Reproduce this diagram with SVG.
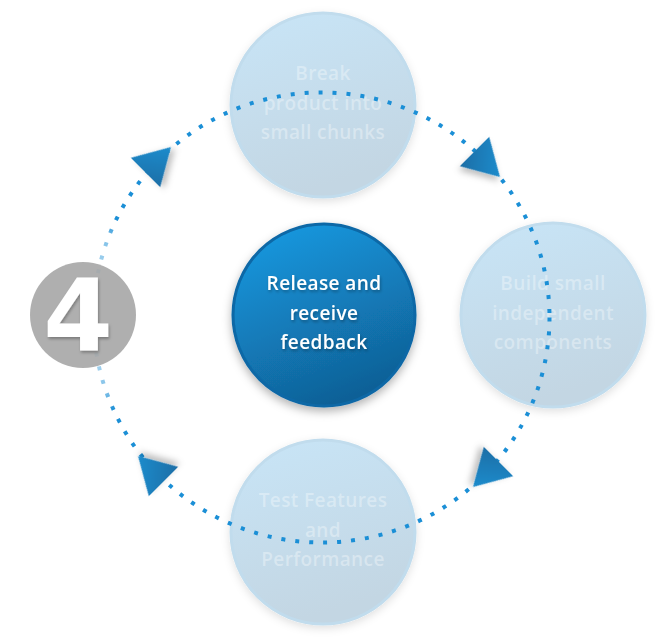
<svg xmlns="http://www.w3.org/2000/svg" width="661" height="643" viewBox="0 0 661 643">
<defs>
<linearGradient id="fadeG" x1="0" y1="0" x2="0.3" y2="1">
<stop offset="0" stop-color="#c8e5f7"/>
<stop offset="1" stop-color="#c3d6e3"/>
</linearGradient>
<linearGradient id="mainG" x1="0.2" y1="0" x2="0.6" y2="1">
<stop offset="0" stop-color="#1599e0"/>
<stop offset="1" stop-color="#105f95"/>
</linearGradient>
<linearGradient id="arrG" x1="1" y1="0" x2="0" y2="1">
<stop offset="0" stop-color="#1d95d8"/>
<stop offset="1" stop-color="#1f6ea6"/>
</linearGradient>
<radialGradient id="halo" cx="0.5" cy="0.5" r="0.5">
<stop offset="0.5" stop-color="#fff" stop-opacity="0.6"/>
<stop offset="0.8" stop-color="#fff" stop-opacity="0.45"/>
<stop offset="1" stop-color="#fff" stop-opacity="0"/>
</radialGradient>
<filter id="sh" x="-30%" y="-30%" width="160%" height="160%">
<feDropShadow dx="0" dy="3" stdDeviation="4" flood-color="#000" flood-opacity="0.12"/>
</filter>
<filter id="shM" x="-30%" y="-30%" width="160%" height="160%">
<feDropShadow dx="0" dy="4" stdDeviation="5" flood-color="#000" flood-opacity="0.3"/>
</filter>
<filter id="shA" x="-50%" y="-50%" width="200%" height="200%">
<feDropShadow dx="2" dy="4" stdDeviation="3" flood-color="#000" flood-opacity="0.25"/>
</filter>
<filter id="shT" x="-20%" y="-20%" width="140%" height="140%">
<feDropShadow dx="1" dy="2" stdDeviation="1.5" flood-color="#000" flood-opacity="0.3"/>
</filter>
<polygon id="tri" points="24,0 -12,-20.8 -12,20.8"/>
</defs>
<style>
.fade{fill:url(#fadeG);stroke:#c1dced;stroke-width:3;filter:url(#sh)}
.ft{font-family:"Open Sans","Noto Sans",sans-serif;font-size:19px;font-weight:600;letter-spacing:0.4px;fill:#ffffff;fill-opacity:0.35;text-anchor:middle}
.mt{font-family:"Open Sans","Noto Sans",sans-serif;font-size:19px;font-weight:600;letter-spacing:0.4px;fill:#ffffff;text-anchor:middle;filter:url(#shT)}
.ring{fill:none;stroke:#1b8fd6;stroke-width:4;stroke-dasharray:4 10}
.arr{fill:url(#arrG);filter:url(#shA)}
</style>
<rect width="661" height="643" fill="#ffffff"/>

<g id="node-break">
<circle class="fade" cx="323" cy="105" r="92"/>
<text class="ft" x="323" y="80">Break</text>
<text class="ft" x="323" y="110">product into</text>
<text class="ft" x="323" y="139">small chunks</text>
</g>
<g id="node-build">
<circle class="fade" cx="553" cy="315" r="92"/>
<text class="ft" x="553" y="290">Build small</text>
<text class="ft" x="553" y="320">independent</text>
<text class="ft" x="553" y="349">components</text>
</g>
<g id="node-test">
<circle class="fade" cx="323" cy="532" r="92"/>
<text class="ft" x="323" y="507">Test Features</text>
<text class="ft" x="323" y="537">and</text>
<text class="ft" x="323" y="566">Performance</text>
</g>
<g id="node-release">
<circle cx="324" cy="315" r="91" fill="url(#mainG)" stroke="#0e68a6" stroke-width="3" filter="url(#shM)"/>
<text class="mt" x="324" y="290">Release and</text>
<text class="mt" x="324" y="320">receive</text>
<text class="mt" x="324" y="349">feedback</text>
</g>

<g id="connectors">
<ellipse class="ring" cx="321.5" cy="317.5" rx="228" ry="225"/>
<use href="#tri" class="arr" transform="translate(154,164) rotate(-45)"/>
<use href="#tri" class="arr" transform="translate(483,160) rotate(45)"/>
<use href="#tri" class="arr" transform="translate(490,470) rotate(135)"/>
<use href="#tri" class="arr" transform="translate(155,473) rotate(-135)"/>
</g>

<g id="step-4">
<circle cx="83" cy="315" r="100" fill="url(#halo)"/>
<circle cx="83" cy="315" r="53" fill="#a6a6a6" fill-opacity="0.9"/>
<text x="78" y="350" font-family="DejaVu Sans, sans-serif" font-size="100" font-weight="bold" fill="#ffffff" text-anchor="middle" filter="url(#shT)">4</text>
</g>
</svg>
